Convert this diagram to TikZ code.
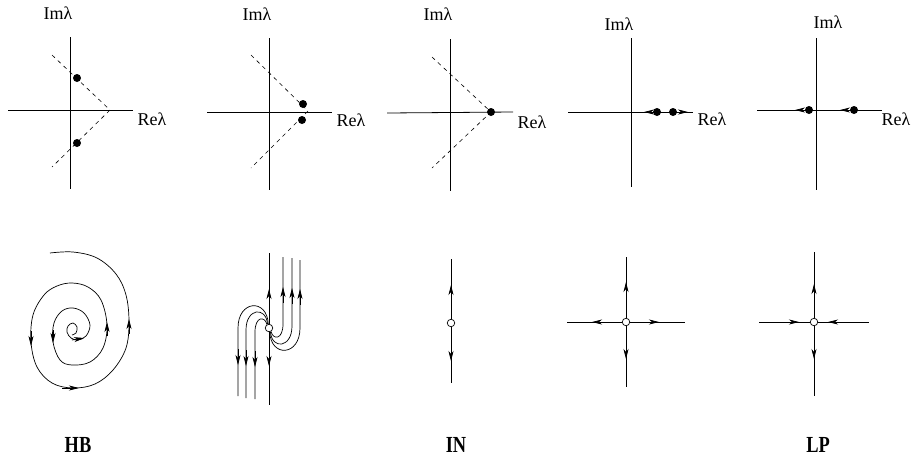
\documentclass[tikz,border=0pt]{standalone}
\usepackage{fontspec}
\setmainfont{Liberation Serif}
\usetikzlibrary{arrows.meta}
\begin{document}
\begin{tikzpicture}[x=1pt,y=-1pt,
  axisline/.style={line width=0.8pt},
  dshline/.style={line width=0.6pt,dash pattern=on 4pt off 4pt},
  flowline/.style={line width=0.7pt},
  arrtip/.style={line width=0.7pt,-{Stealth[length=10pt,width=5pt,inset=3pt]}},
  eigdot/.style={circle,fill=black,inner sep=0pt,minimum size=8pt},
  eqpt/.style={circle,draw,fill=white,line width=0.7pt,inner sep=0pt,minimum size=7.5pt},
  axlab/.style={font=\fontsize{18}{20}\selectfont,inner sep=0pt},
  captxt/.style={font=\fontsize{23}{25}\selectfont\bfseries,inner sep=0pt,xscale=0.8}]
\useasboundingbox (0,0) rectangle (911,459);

% ---------- Panel 1 ----------
\draw[axisline] (70,37) -- (70,189);
\draw[axisline] (8,110) -- (133,110);
\draw[dshline] (52,55) -- (110,110) -- (52,167);
\node[eigdot] (d1a) at (77,78) {};
\node[eigdot] (d1b) at (77,143) {};
\node[axlab] (im1) at (58,13) {Imλ};
\node[axlab] (re1) at (152,119) {Reλ};

% ---------- Panel 2 ----------
\draw[axisline] (269,38) -- (269,190);
\draw[axisline] (207,112) -- (332,112);
\draw[dshline] (251,55) -- (308,111) -- (251,168);
\node[eigdot] (d2a) at (303,104) {};
\node[eigdot] (d2b) at (302,120) {};
\node[axlab] (im2) at (257,14) {Imλ};
\node[axlab] (re2) at (351,120) {Reλ};

% ---------- Panel 3 ----------
\draw[axisline] (450,39) -- (450,191);
\draw[axisline] (387,113) -- (513,112);
\draw[dshline] (432,57) -- (491,112) -- (432,168);
\node[eigdot] (d3) at (491,112) {};
\node[axlab] (im3) at (438,14) {Imλ};
\node[axlab] (re3) at (532,122) {Reλ};

% ---------- Panel 4 ----------
\draw[axisline] (631,38) -- (631,187);
\draw[axisline] (568,112) -- (693,112);
\node[eigdot] (d4a) at (657,112) {};
\node[eigdot] (d4b) at (673,112) {};
\draw[arrtip] (d4a.center) -- (644,112);
\draw[arrtip] (d4b.center) -- (688,112);
\node[axlab] (im4) at (619,24) {Imλ};
\node[axlab] (re4) at (712,119) {Reλ};

% ---------- Panel 5 ----------
\draw[axisline] (816,38) -- (816,190);
\draw[axisline] (757,110) -- (882,110);
\node[eigdot] (d5a) at (809,110) {};
\node[eigdot] (d5b) at (854,110) {};
\draw[arrtip] (d5a.center) -- (795,110);
\draw[arrtip] (d5b.center) -- (840,110);
\node[axlab] (im5) at (828,22) {Imλ};
\node[axlab] (re5) at (896,119) {Reλ};

% ---------- Panel 6: spiral ----------
\draw[flowline] plot[smooth,tension=0.6] coordinates {
 (50,253) (73,252) (97,258) (116,274) (126,295) (129,322) (126,348)
 (113,370) (95,384) (73,388) (52,383) (37,367) (31,342) (33,315)
 (44,295) (57,286) (72,283) (88,287) (101,300) (107,325) (103,348)
 (90,362) (72,365) (60,360) (53,342) (54,323) (62,311) (73,308)
 (84,313) (90,325) (86,336) (78,340) (71,338) (67,332) (68,326)
 (73,323) (77,327) (76,333) (72,335)};
\draw[arrtip] (129,334) -- (129,319);
\draw[arrtip] (31,331) -- (31,346);
\draw[arrtip] (62,388) -- (79,388);
\draw[arrtip] (107,336) -- (107,322);
\draw[arrtip] (53,330) -- (53,343);
\draw[arrtip] (72,340) -- (84,338);

% ---------- Panel 7 ----------
\node[eqpt] (c7) at (269,328) {};
\draw[flowline] (269,253) -- (c7.north);
\draw[flowline] (c7.south) -- (269,405);
\draw[arrtip] (269,306) -- (269,289);
\draw[arrtip] (269,349) -- (269,366);
% right family
\draw[flowline] (283,257) -- (283,324) .. controls (283,340) and (273,340) .. (c7.-60);
\draw[flowline] (292,258) -- (292,326) .. controls (292,348) and (272,350) .. (c7.-70);
\draw[flowline] (300,260) -- (300,328) .. controls (300,356) and (271,358) .. (c7.-80);
\draw[arrtip] (283,303) -- (283,287);
\draw[arrtip] (292,304) -- (292,288);
\draw[arrtip] (300,305) -- (300,289);
% left family
\draw[flowline] (255,399) -- (255,332) .. controls (255,316) and (265,316) .. (c7.120);
\draw[flowline] (246,398) -- (246,330) .. controls (246,308) and (266,306) .. (c7.110);
\draw[flowline] (238,396) -- (238,328) .. controls (238,300) and (267,298) .. (c7.100);
\draw[arrtip] (255,351) -- (255,367);
\draw[arrtip] (246,350) -- (246,366);
\draw[arrtip] (238,349) -- (238,365);

% ---------- Panel 8 ----------
\node[eqpt] (c8) at (451,323) {};
\draw[flowline] (451,259) -- (c8.north);
\draw[flowline] (c8.south) -- (451,383);
\draw[arrtip] (451,303) -- (451,285);
\draw[arrtip] (451,343) -- (451,361);

% ---------- Panel 9 ----------
\node[eqpt] (c9) at (626,322) {};
\draw[flowline] (626,257) -- (c9.north);
\draw[flowline] (c9.south) -- (626,387);
\draw[flowline] (567,322) -- (c9.west);
\draw[flowline] (c9.east) -- (685,322);
\draw[arrtip] (626,301) -- (626,282);
\draw[arrtip] (626,340) -- (626,359);
\draw[arrtip] (611,322) -- (592,322);
\draw[arrtip] (640,322) -- (659,322);

% ---------- Panel 10 ----------
\node[eqpt] (c10) at (814,322) {};
\draw[flowline] (814,252) -- (c10.north);
\draw[flowline] (c10.south) -- (814,396);
\draw[flowline] (759,322) -- (c10.west);
\draw[flowline] (c10.east) -- (869,322);
\draw[arrtip] (814,303) -- (814,284);
\draw[arrtip] (814,340) -- (814,359);
\draw[arrtip] (780,322) -- (799,322);
\draw[arrtip] (848,322) -- (828,322);

% ---------- Captions ----------
\node[captxt] (hb) at (78,445) {HB};
\node[captxt] (in) at (456,445) {IN};
\node[captxt] (lp) at (818,445) {LP};
\end{tikzpicture}
\end{document}
